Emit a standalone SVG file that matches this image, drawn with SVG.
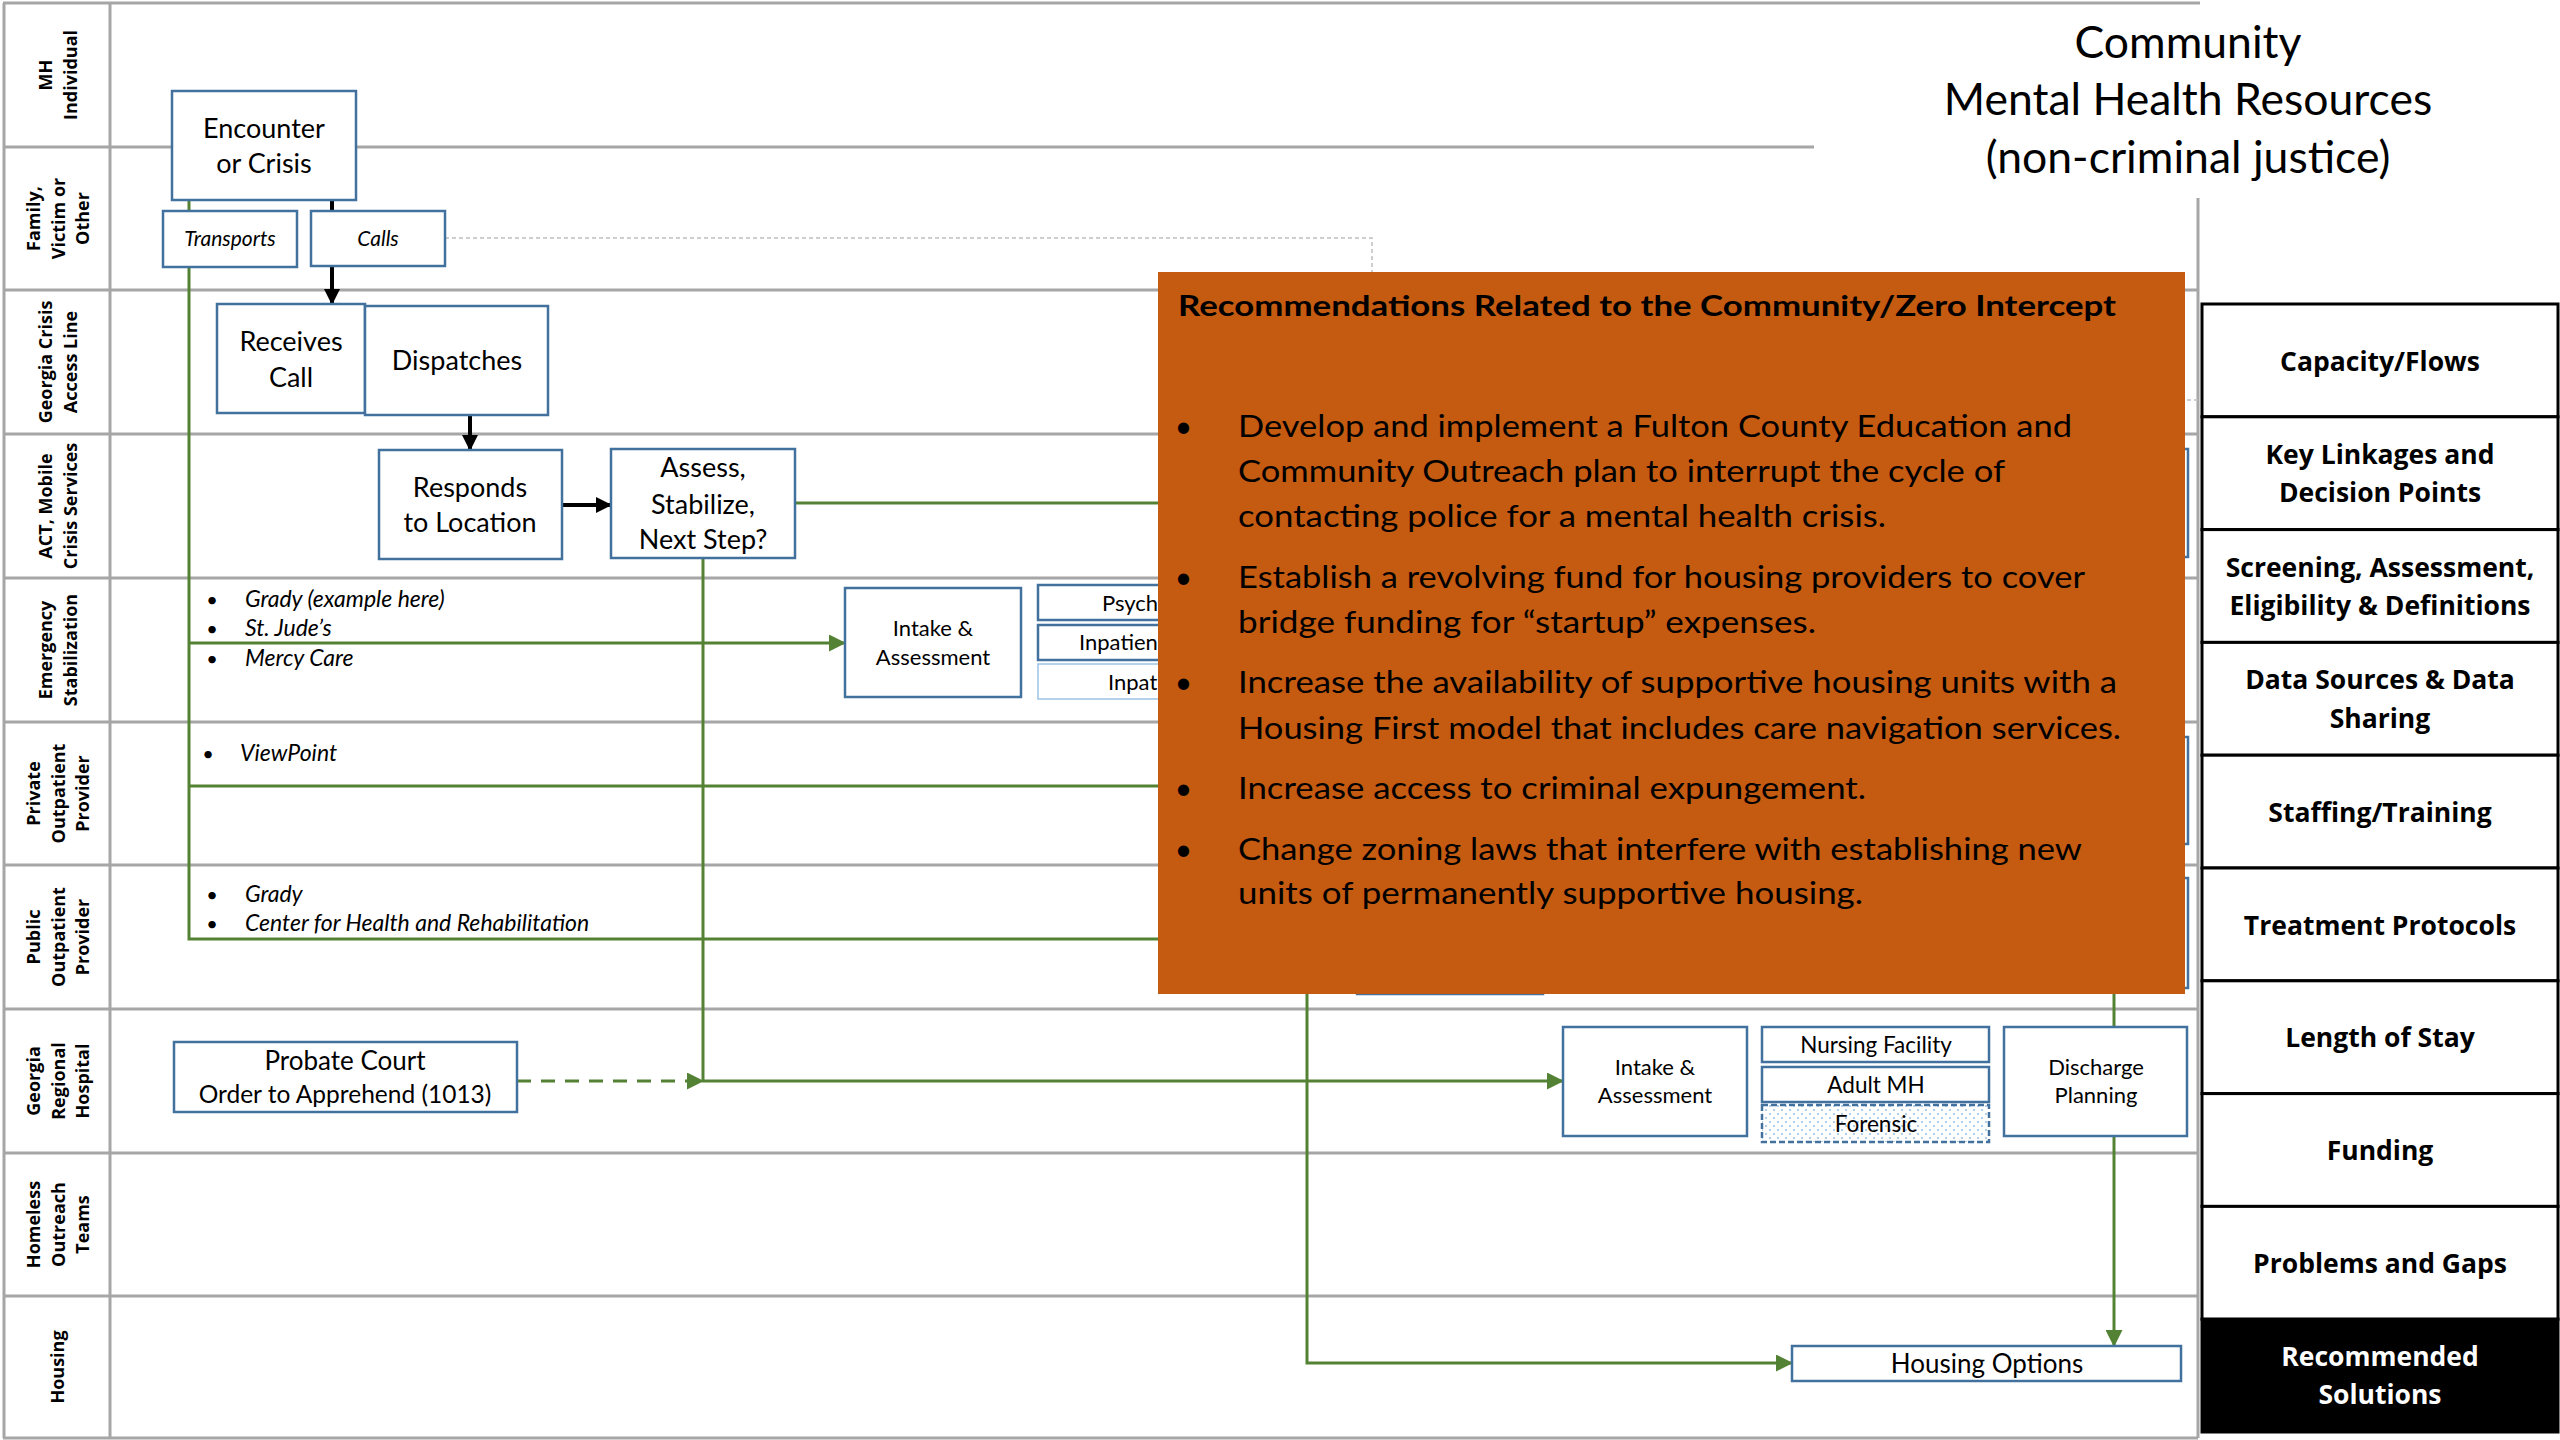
<svg xmlns="http://www.w3.org/2000/svg" width="2560" height="1440" viewBox="0 0 2560 1440">
  <style>
    .lane { stroke: #a6a6a6; stroke-width: 3; fill: none; }
    .box { fill: #ffffff; stroke: #41719c; stroke-width: 2.5; }
    .t { font-family: Lato, "Open Sans", sans-serif; fill: #000000; }
    .c { text-anchor: middle; }
    .lbl { font-family: "Open Sans", "DejaVu Sans", sans-serif; font-weight: 700; font-size: 18px; text-anchor: middle; fill: #000000; }
    .side { font-family: "Open Sans", "DejaVu Sans", sans-serif; font-weight: 700; font-size: 26.5px; text-anchor: middle; fill: #000000; }
    .side.inv { fill: #ffffff; }
    .row { fill: #ffffff; stroke: #000000; stroke-width: 3; }
    .g { stroke: #548235; stroke-width: 3; fill: none; }
    .k { stroke: #000000; stroke-width: 4; fill: none; }
    .dot { stroke: #bfbfbf; stroke-width: 1.5; stroke-dasharray: 4 3; fill: none; }
    .it { font-style: italic; }
    .big { font-size: 27px; }
    .mid { font-size: 22px; }
    .lst { font-size: 23px; font-style: italic; }
    .rec { font-family: Lato, "Open Sans", sans-serif; font-size: 30px; fill: #000000; }
  </style>
  <defs>
    <marker id="arrK" markerUnits="userSpaceOnUse" markerWidth="16" markerHeight="16" refX="15" refY="8" orient="auto">
      <path d="M0,0 L16,8 L0,16 z" fill="#000000"/>
    </marker>
    <marker id="arrG" markerUnits="userSpaceOnUse" markerWidth="17" markerHeight="17" refX="16" refY="8.5" orient="auto">
      <path d="M0,0 L17,8.5 L0,17 z" fill="#548235"/>
    </marker>
    <pattern id="dots" patternUnits="userSpaceOnUse" width="8" height="8">
      <rect width="8" height="8" fill="#ffffff"/>
      <circle cx="2" cy="2" r="1.1" fill="#9dc3e6"/>
      <circle cx="6" cy="6" r="1.1" fill="#9dc3e6"/>
    </pattern>
  </defs>

  <rect x="0" y="0" width="2560" height="1440" fill="#ffffff"/>

  <!-- swimlane grid -->
  <g id="lanes">
    <line class="lane" x1="3" y1="3" x2="2200" y2="3"/>
    <line class="lane" x1="3" y1="147" x2="1814" y2="147"/>
    <line class="lane" x1="3" y1="290" x2="2198" y2="290"/>
    <line class="lane" x1="3" y1="434" x2="2198" y2="434"/>
    <line class="lane" x1="3" y1="578" x2="2198" y2="578"/>
    <line class="lane" x1="3" y1="722" x2="2198" y2="722"/>
    <line class="lane" x1="3" y1="865" x2="2198" y2="865"/>
    <line class="lane" x1="3" y1="1009" x2="2198" y2="1009"/>
    <line class="lane" x1="3" y1="1153" x2="2198" y2="1153"/>
    <line class="lane" x1="3" y1="1296" x2="2198" y2="1296"/>
    <line class="lane" x1="3" y1="1438" x2="2198" y2="1438"/>
    <line class="lane" x1="4" y1="3" x2="4" y2="1438"/>
    <line class="lane" x1="110" y1="3" x2="110" y2="1438"/>
    <line class="lane" x1="2198" y1="198" x2="2198" y2="1438"/>
  </g>

  <!-- lane headings -->
  <g id="lane-labels">
    <text class="lbl" transform="translate(58,75) rotate(-90)"><tspan x="0" y="-5.8">MH</tspan><tspan x="0" y="18.7">Individual</tspan></text>
    <text class="lbl" transform="translate(58,218.5) rotate(-90)"><tspan x="0" y="-18">Family,</tspan><tspan x="0" y="6.5">Victim or</tspan><tspan x="0" y="31">Other</tspan></text>
    <text class="lbl" transform="translate(58,362) rotate(-90)"><tspan x="0" y="-5.8">Georgia Crisis</tspan><tspan x="0" y="18.7">Access Line</tspan></text>
    <text class="lbl" transform="translate(58,506) rotate(-90)"><tspan x="0" y="-5.8">ACT, Mobile</tspan><tspan x="0" y="18.7">Crisis Services</tspan></text>
    <text class="lbl" transform="translate(58,650) rotate(-90)"><tspan x="0" y="-5.8">Emergency</tspan><tspan x="0" y="18.7">Stabilization</tspan></text>
    <text class="lbl" transform="translate(58,793.5) rotate(-90)"><tspan x="0" y="-18">Private</tspan><tspan x="0" y="6.5">Outpatient</tspan><tspan x="0" y="31">Provider</tspan></text>
    <text class="lbl" transform="translate(58,937) rotate(-90)"><tspan x="0" y="-18">Public</tspan><tspan x="0" y="6.5">Outpatient</tspan><tspan x="0" y="31">Provider</tspan></text>
    <text class="lbl" transform="translate(58,1081) rotate(-90)"><tspan x="0" y="-18">Georgia</tspan><tspan x="0" y="6.5">Regional</tspan><tspan x="0" y="31">Hospital</tspan></text>
    <text class="lbl" transform="translate(58,1224.5) rotate(-90)"><tspan x="0" y="-18">Homeless</tspan><tspan x="0" y="6.5">Outreach</tspan><tspan x="0" y="31">Teams</tspan></text>
    <text class="lbl" transform="translate(58,1367) rotate(-90)"><tspan x="0" y="6.4">Housing</tspan></text>
  </g>

  <!-- title -->
  <g id="title">
    <text class="t c" font-size="44.5" x="2188" y="58">Community</text>
    <text class="t c" font-size="44.5" x="2188" y="115">Mental Health Resources</text>
    <text class="t c" font-size="44.5" x="2188" y="173">(non-criminal justice)</text>
  </g>

  <!-- connectors -->
  <g id="connectors">
    <path class="dot" d="M445,238 H1372 V400 H2198"/>
    <path class="g" d="M189,200 V939 H1300"/>
    <path class="g" d="M189,786 H1300"/>
    <path class="g" d="M189,643 H845" marker-end="url(#arrG)"/>
    <path class="k" d="M332,200 V211"/>
    <path class="k" d="M332,266 V304" marker-end="url(#arrK)"/>
    <path class="k" d="M470,415 V450" marker-end="url(#arrK)"/>
    <path class="k" d="M562,505 H611" marker-end="url(#arrK)"/>
    <path class="g" d="M795,503 H1307 V1363 H1792" marker-end="url(#arrG)"/>
    <path class="g" d="M703,558 V1081 H1563" marker-end="url(#arrG)"/>
    <path class="g" d="M517,1081 H703" stroke-dasharray="14 10" marker-end="url(#arrG)"/>
    <path class="g" d="M2114,988 V1027"/>
    <path class="g" d="M2114,1136 V1346" marker-end="url(#arrG)"/>
  </g>

  <!-- nodes -->
  <g id="encounter">
    <rect class="box" x="172" y="91" width="184" height="109"/>
    <text class="t c big" x="264" y="138"><tspan x="264">Encounter</tspan><tspan x="264" y="173">or Crisis</tspan></text>
  </g>
  <g id="transports">
    <rect class="box" x="163" y="211" width="134" height="56"/>
    <text class="t c it" font-size="21" x="230" y="246">Transports</text>
  </g>
  <g id="calls">
    <rect class="box" x="311" y="211" width="134" height="55"/>
    <text class="t c it" font-size="21" x="378" y="246">Calls</text>
  </g>
  <g id="receives-call">
    <rect class="box" x="217" y="304" width="148" height="109"/>
    <text class="t c big" x="291" y="351"><tspan x="291">Receives</tspan><tspan x="291" y="387">Call</tspan></text>
  </g>
  <g id="dispatches">
    <rect class="box" x="365" y="306" width="183" height="109"/>
    <text class="t c big" x="457" y="370">Dispatches</text>
  </g>
  <g id="responds">
    <rect class="box" x="379" y="450" width="183" height="109"/>
    <text class="t c big" x="470" y="497"><tspan x="470">Responds</tspan><tspan x="470" y="532">to Location</tspan></text>
  </g>
  <g id="assess">
    <rect class="box" x="611" y="449" width="184" height="109"/>
    <text class="t c big" x="703" y="477"><tspan x="703">Assess,</tspan><tspan x="703" y="514">Stabilize,</tspan><tspan x="703" y="549">Next Step?</tspan></text>
  </g>
  <g id="emergency-list">
    <text class="t c" font-size="20" x="212" y="607">•</text>
    <text class="t c" font-size="20" x="212" y="636">•</text>
    <text class="t c" font-size="20" x="212" y="666">•</text>
    <text class="t lst" x="245" y="607">Grady (example here)</text>
    <text class="t lst" x="245" y="636">St. Jude’s</text>
    <text class="t lst" x="245" y="666">Mercy Care</text>
  </g>
  <g id="intake-es">
    <rect class="box" x="845" y="588" width="176" height="109"/>
    <text class="t c mid" x="933" y="636"><tspan x="933">Intake &amp;</tspan><tspan x="933" y="665">Assessment</tspan></text>
  </g>
  <g id="psych">
    <rect class="box" x="1038" y="585" width="200" height="35"/>
    <text class="t mid" x="1102" y="611">Psych</text>
  </g>
  <g id="inpatient-a">
    <rect class="box" x="1038" y="625" width="200" height="35"/>
    <text class="t mid" x="1079" y="650">Inpatien</text>
  </g>
  <g id="inpatient-b">
    <rect x="1038" y="664" width="200" height="35" fill="#ffffff" stroke="#9dc3e6" stroke-width="1.5"/>
    <text class="t mid" x="1108" y="690">Inpat</text>
  </g>
  <g id="private-list">
    <text class="t c" font-size="20" x="208" y="761">•</text>
    <text class="t lst" x="240" y="761">ViewPoint</text>
  </g>
  <g id="public-list">
    <text class="t c" font-size="20" x="212" y="902">•</text>
    <text class="t c" font-size="20" x="212" y="931">•</text>
    <text class="t lst" x="245" y="902">Grady</text>
    <text class="t lst" x="245" y="931">Center for Health and Rehabilitation</text>
  </g>
  <g id="act-service">
    <rect class="box" x="2040" y="449" width="148" height="108"/>
  </g>
  <g id="private-service">
    <rect class="box" x="2040" y="737" width="148" height="107"/>
  </g>
  <g id="public-service">
    <rect class="box" x="2040" y="878" width="148" height="110"/>
  </g>
  <g id="public-program">
    <rect class="box" x="1357" y="880" width="186" height="114"/>
  </g>
  <g id="probate">
    <rect class="box" x="174" y="1042" width="343" height="70"/>
    <text class="t c" font-size="26" x="345" y="1070"><tspan x="345">Probate Court</tspan><tspan x="345" y="1103" font-size="24.5">Order to Apprehend (1013)</tspan></text>
  </g>
  <g id="intake-grh">
    <rect class="box" x="1563" y="1027" width="184" height="109"/>
    <text class="t c mid" x="1655" y="1075"><tspan x="1655">Intake &amp;</tspan><tspan x="1655" y="1103">Assessment</tspan></text>
  </g>
  <g id="nursing">
    <rect class="box" x="1762" y="1027" width="227" height="35"/>
    <text class="t c" font-size="22.5" x="1876" y="1053">Nursing Facility</text>
  </g>
  <g id="adult-mh">
    <rect class="box" x="1762" y="1067" width="227" height="35"/>
    <text class="t c" font-size="22.5" x="1876" y="1093">Adult MH</text>
  </g>
  <g id="forensic">
    <rect x="1762" y="1105" width="227" height="37" fill="url(#dots)" stroke="#41719c" stroke-width="2.5" stroke-dasharray="6 3"/>
    <text class="t c" font-size="22.5" x="1876" y="1132">Forensic</text>
  </g>
  <g id="discharge">
    <rect class="box" x="2004" y="1027" width="183" height="109"/>
    <text class="t c mid" x="2096" y="1075"><tspan x="2096">Discharge</tspan><tspan x="2096" y="1103">Planning</tspan></text>
  </g>
  <g id="housing-options">
    <rect class="box" x="1792" y="1346" width="389" height="35"/>
    <text class="t c" font-size="26" x="1987" y="1373">Housing Options</text>
  </g>

  <!-- recommendations panel -->
  <g id="recommendations">
    <rect x="1158" y="272" width="1027" height="722" fill="#c55a11"/>
    <text class="t" font-size="29" font-weight="700" x="1178" y="316" textLength="938" lengthAdjust="spacingAndGlyphs">Recommendations Related to the Community/Zero Intercept</text>
    <g class="rec">
      <text x="1183.5" y="437" text-anchor="middle">•</text>
      <text x="1183.5" y="588" text-anchor="middle">•</text>
      <text x="1183.5" y="693" text-anchor="middle">•</text>
      <text x="1183.5" y="799" text-anchor="middle">•</text>
      <text x="1183.5" y="860" text-anchor="middle">•</text>
      <text x="1238" y="437" textLength="834" lengthAdjust="spacingAndGlyphs">Develop and implement a Fulton County Education and</text>
      <text x="1238" y="482" textLength="767" lengthAdjust="spacingAndGlyphs">Community Outreach plan to interrupt the cycle of</text>
      <text x="1238" y="527" textLength="648" lengthAdjust="spacingAndGlyphs">contacting police for a mental health crisis.</text>
      <text x="1238" y="588" textLength="847" lengthAdjust="spacingAndGlyphs">Establish a revolving fund for housing providers to cover</text>
      <text x="1238" y="633" textLength="578" lengthAdjust="spacingAndGlyphs">bridge funding for “startup” expenses.</text>
      <text x="1238" y="693" textLength="879" lengthAdjust="spacingAndGlyphs">Increase the availability of supportive housing units with a</text>
      <text x="1238" y="739" textLength="883" lengthAdjust="spacingAndGlyphs">Housing First model that includes care navigation services.</text>
      <text x="1238" y="799" textLength="628" lengthAdjust="spacingAndGlyphs">Increase access to criminal expungement.</text>
      <text x="1238" y="860" textLength="844" lengthAdjust="spacingAndGlyphs">Change zoning laws that interfere with establishing new</text>
      <text x="1238" y="904" textLength="625" lengthAdjust="spacingAndGlyphs">units of permanently supportive housing.</text>
    </g>
  </g>

  <!-- topic column -->
  <g id="topics">
    <rect class="row" x="2202" y="304" width="356" height="112.8"/>
    <rect class="row" x="2202" y="416.8" width="356" height="112.8"/>
    <rect class="row" x="2202" y="529.6" width="356" height="112.8"/>
    <rect class="row" x="2202" y="642.4" width="356" height="112.8"/>
    <rect class="row" x="2202" y="755.2" width="356" height="112.8"/>
    <rect class="row" x="2202" y="868" width="356" height="112.8"/>
    <rect class="row" x="2202" y="980.8" width="356" height="112.8"/>
    <rect class="row" x="2202" y="1093.6" width="356" height="112.8"/>
    <rect class="row" x="2202" y="1206.4" width="356" height="112.8"/>
    <rect x="2202" y="1319.2" width="356" height="112.8" fill="#000000" stroke="#000000" stroke-width="3"/>
    <text class="side" x="2380" y="371">Capacity/Flows</text>
    <text class="side" x="2380" y="464"><tspan x="2380">Key Linkages and</tspan><tspan x="2380" y="502">Decision Points</tspan></text>
    <text class="side" x="2380" y="577"><tspan x="2380">Screening, Assessment,</tspan><tspan x="2380" y="615">Eligibility &amp; Definitions</tspan></text>
    <text class="side" x="2380" y="689"><tspan x="2380">Data Sources &amp; Data</tspan><tspan x="2380" y="728">Sharing</tspan></text>
    <text class="side" x="2380" y="822">Staffing/Training</text>
    <text class="side" x="2380" y="935">Treatment Protocols</text>
    <text class="side" x="2380" y="1047">Length of Stay</text>
    <text class="side" x="2380" y="1160">Funding</text>
    <text class="side" x="2380" y="1273">Problems and Gaps</text>
    <text class="side inv" x="2380" y="1366"><tspan x="2380">Recommended</tspan><tspan x="2380" y="1404">Solutions</tspan></text>
  </g>
</svg>
